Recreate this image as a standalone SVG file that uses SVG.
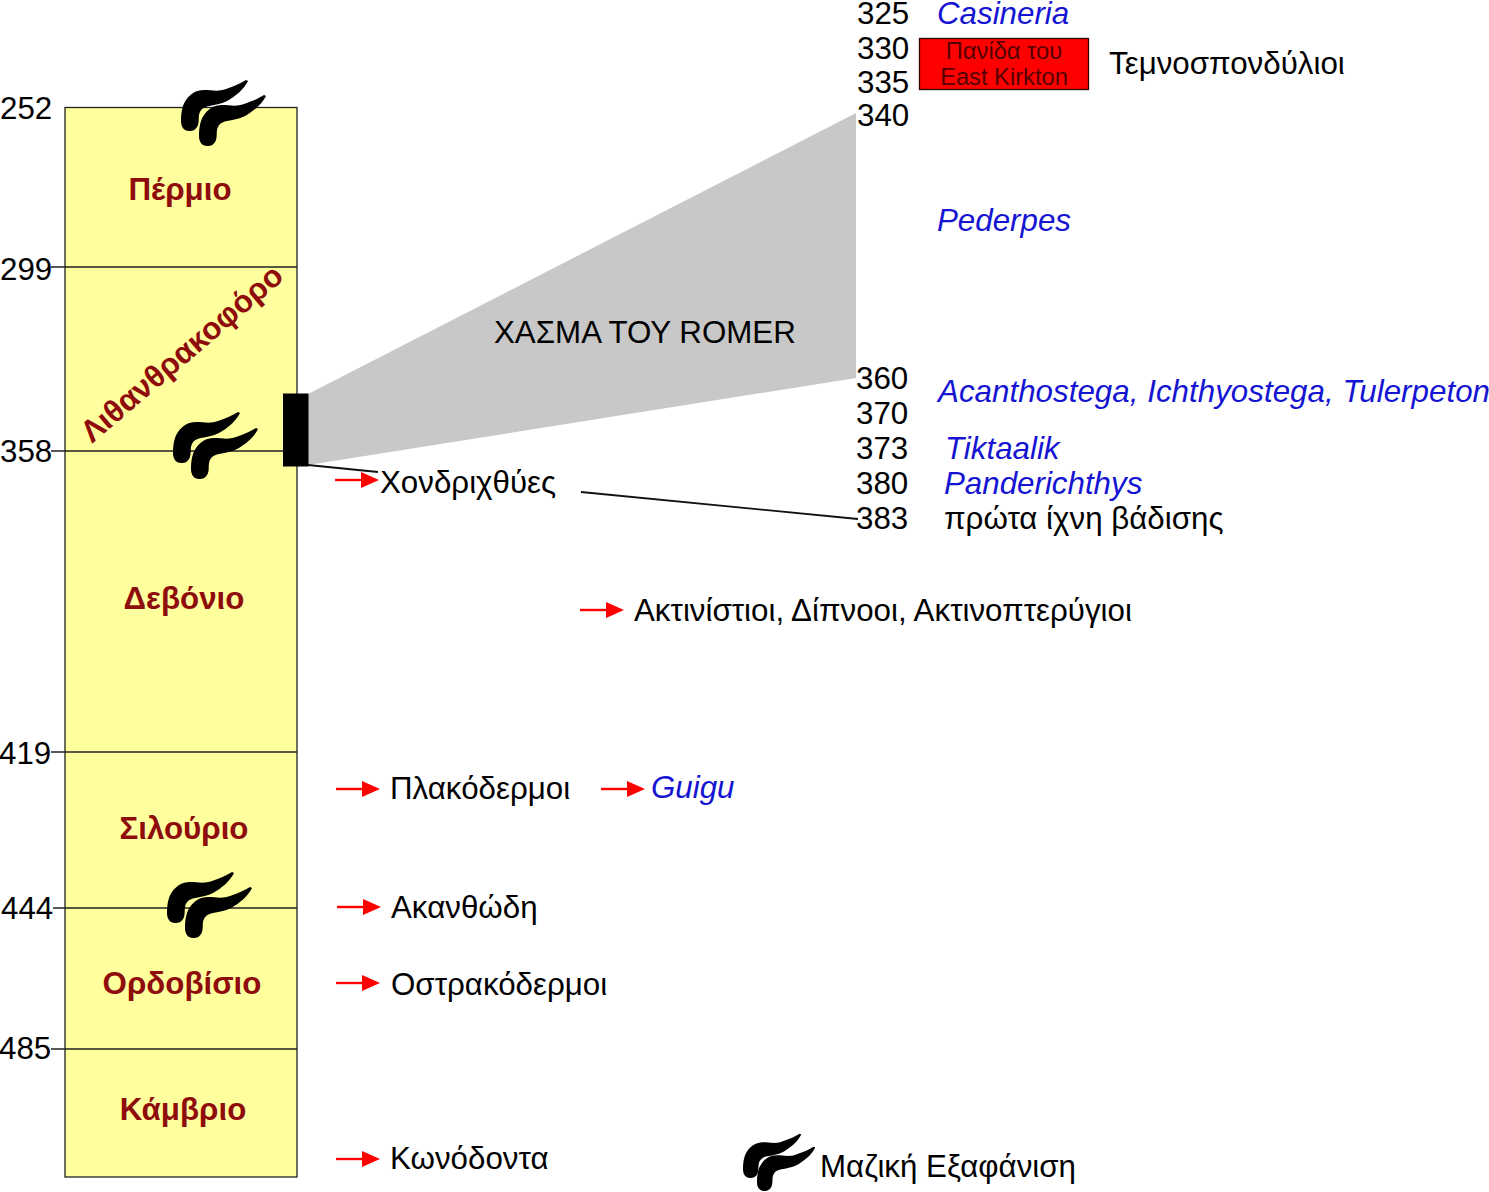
<svg xmlns="http://www.w3.org/2000/svg" xmlns:xlink="http://www.w3.org/1999/xlink" width="1489" height="1192" viewBox="0 0 1489 1192">
<style>
text{font-family:"Liberation Sans",Arial,sans-serif;fill:#000}
.n{font-size:31.300px}
.l{font-size:31.300px}
.s{font-size:31.300px;fill:#1414d2;font-style:italic}
.p{font-size:31.300px;font-weight:bold;fill:#8f0c0c;text-anchor:middle}
.b{stroke:#222;stroke-width:1.3;fill:none}
.c{stroke:#111;stroke-width:1.8;fill:none}
.a{stroke:#f00;stroke-width:2.4;fill:none}
</style>
<defs>
<g id="ext"><path d="M0-10C0-20 2-27 5-31C9-37 15-41 23-41C31-41 37-39 45-42C54-45 60-48 65-51L67-50C63-42 55-35 46-30C40-27 33-26 28-25C22-24 19-21 18-16C17.500-12 18-9 17-6C15-1 12 0 8 0C3 0 0-4 0-10Z" fill="#000"/></g>
<g id="arr"><path class="a" d="M0 0H30"/><path d="M26-8L44 0L26 8Z" fill="#f00"/></g>
</defs>
<g id="column">
<rect x="65" y="107.500" width="232" height="1069.500" fill="#ffff9d" stroke="#222" stroke-width="1.300"/>
<path class="b" d="M51 267H297M51 451H297M51 752H297M53 908H297M51 1049H297"/>
</g>
<g id="gap"><path d="M308 394L856 113V378L308 465Z" fill="#c8c8c8"/><rect x="283" y="393.500" width="25.500" height="73" fill="#000"/></g>
<g id="connectors">
<path class="c" d="M308 465L378 472M581 492L858 519"/>
<use xlink:href="#arr" x="335" y="480"/>
<use xlink:href="#arr" x="580" y="610"/>
<use xlink:href="#arr" x="336" y="789"/>
<use xlink:href="#arr" x="601" y="789"/>
<use xlink:href="#arr" x="337" y="907"/>
<use xlink:href="#arr" x="336" y="983"/>
<use xlink:href="#arr" x="336" y="1159"/>
</g>
<g id="extinctions">
<use xlink:href="#ext" x="181" y="131"/><use xlink:href="#ext" x="199" y="146"/>
<use xlink:href="#ext" x="173" y="463"/><use xlink:href="#ext" x="191" y="479"/>
<use xlink:href="#ext" x="167" y="923"/><use xlink:href="#ext" x="185" y="938"/>
<use xlink:href="#ext" transform="translate(743 1178) scale(.87)"/><use xlink:href="#ext" transform="translate(757 1191) scale(.87)"/>
</g>
<g id="periods">
<text class="p" x="180" y="200">Πέρμιο</text>
<text class="p" transform="translate(92 444) rotate(-40.500)" style="text-anchor:start">Λιθανθρακοφόρο</text>
<text class="p" x="184" y="609">Δεβόνιο</text>
<text class="p" x="184" y="839">Σιλούριο</text>
<text class="p" x="182" y="994">Ορδοβίσιο</text>
<text class="p" x="183" y="1120">Κάμβριο</text>
</g>
<g id="ages">
<text class="n" x="0" y="119">252</text><text class="n" x="0" y="280">299</text><text class="n" x="0" y="462">358</text><text class="n" x="-1" y="764">419</text><text class="n" x="1" y="919">444</text><text class="n" x="-1" y="1059">485</text>
<text class="n" x="857" y="24">325</text><text class="n" x="857" y="58.500">330</text><text class="n" x="857" y="92.500">335</text><text class="n" x="857" y="125.500">340</text><text class="n" x="856" y="388.500">360</text><text class="n" x="856" y="423.500">370</text><text class="n" x="856" y="458.500">373</text><text class="n" x="856" y="494">380</text><text class="n" x="856" y="529">383</text>
</g>
<g id="fauna"><rect x="919.500" y="38.500" width="169" height="51" fill="#f00" stroke="#300" stroke-width="1.300"/>
<text x="1004" y="59" font-size="23.700" text-anchor="middle" style="fill:#500">Πανίδα του</text><text x="1004" y="85" font-size="23.700" text-anchor="middle" style="fill:#500">East Kirkton</text></g>
<g id="labels">
<text class="s" x="937" y="24">Casineria</text>
<text class="l" x="1109" y="74">Τεμνοσπονδύλιοι</text>
<text class="s" x="937" y="231">Pederpes</text>
<text class="s" x="938" y="402" textLength="552">Acanthostega, Ichthyostega, Tulerpeton</text>
<text class="s" x="945" y="458.500">Tiktaalik</text>
<text class="s" x="944" y="494">Panderichthys</text>
<text class="l" x="944" y="529">πρώτα ίχνη βάδισης</text>
<text class="l" x="494" y="343">ΧΑΣΜΑ ΤΟΥ ROMER</text>
<text class="l" x="380" y="493">Χονδριχθύες</text>
<text class="l" x="634" y="620.500">Ακτινίστιοι, Δίπνοοι, Ακτινοπτερύγιοι</text>
<text class="l" x="390" y="799">Πλακόδερμοι</text>
<text class="s" x="651" y="798">Guigu</text>
<text class="l" x="391" y="918">Ακανθώδη</text>
<text class="l" x="391" y="994.500">Οστρακόδερμοι</text>
<text class="l" x="390" y="1169">Κωνόδοντα</text>
<text class="l" x="820" y="1177">Μαζική Εξαφάνιση</text>
</g>
</svg>
